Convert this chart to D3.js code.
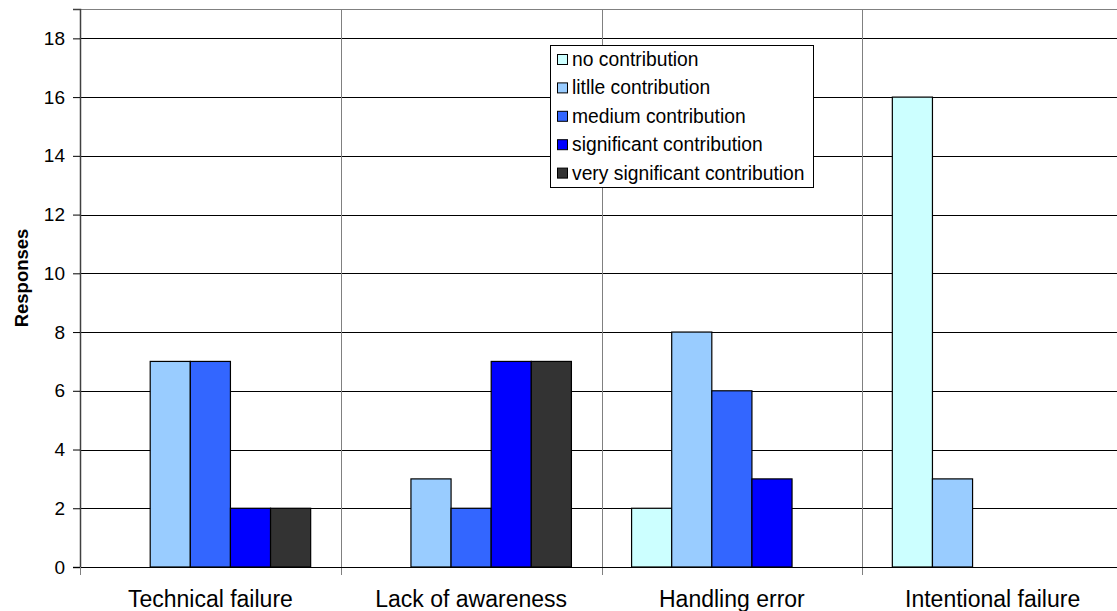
<!DOCTYPE html>
<html>
<head>
<meta charset="utf-8">
<script src="https://cdn.jsdelivr.net/npm/d3@7"></script>
<style>
  html, body { margin: 0; padding: 0; background: #fff; }
  svg { display: block; font-family: "Liberation Sans", Arial, sans-serif; }
</style>
</head>
<body>
<svg id="chart" width="1117" height="611"></svg>
<script>
// Survey responses: contribution level per cause of failure
const categories = ["Technical failure", "Lack of awareness", "Handling error", "Intentional failure"];
const seriesNames = ["no contribution", "litlle contribution", "medium contribution", "significant contribution", "very significant contribution"];
const seriesColors = ["#CCFFFF", "#99CCFF", "#3366FF", "#0000FF", "#333333"];
const noContribution = [0, 0, 2, 16];
const litlleContribution = [7, 3, 8, 3];
const mediumContribution = [7, 2, 6, 0];
const significantContribution = [2, 7, 3, 0];
const verySignificantContribution = [2, 7, 0, 0];
const yTicks = [0, 2, 4, 6, 8, 10, 12, 14, 16, 18];
const yMax = 19;

const seriesValues = [noContribution, litlleContribution, mediumContribution, significantContribution, verySignificantContribution];

const svg = d3.select("#chart");
const plot = { left: 80, right: 1123, top: 9, bottom: 567 };

const x = d3.scaleBand().domain(categories).range([plot.left, plot.right]).padding(0);
const xs = d3.scaleBand().domain(d3.range(seriesNames.length))
  .range([0, x.bandwidth()]).paddingInner(0).paddingOuter(0.75);
const y = d3.scaleLinear().domain([0, yMax]).range([plot.bottom, plot.top]);

// top border of the plot area
svg.append("line")
  .attr("x1", plot.left).attr("x2", plot.right)
  .attr("y1", y(yMax) + 0.5).attr("y2", y(yMax) + 0.5)
  .attr("stroke", "#808080").attr("stroke-width", 1);

// horizontal gridlines
svg.append("g").selectAll("line")
  .data(yTicks.filter(d => d > 0))
  .join("line")
  .attr("x1", plot.left).attr("x2", plot.right)
  .attr("y1", d => Math.round(y(d)) + 0.5).attr("y2", d => Math.round(y(d)) + 0.5)
  .attr("stroke", "#000").attr("stroke-width", 1);

// vertical gridlines between categories
svg.append("g").selectAll("line")
  .data(categories.slice(1).concat(["__end"]))
  .join("line")
  .attr("x1", (d, i) => Math.round(plot.left + (i + 1) * x.step()) + 0.5)
  .attr("x2", (d, i) => Math.round(plot.left + (i + 1) * x.step()) + 0.5)
  .attr("y1", plot.top).attr("y2", plot.bottom + 8)
  .attr("stroke", "#808080").attr("stroke-width", 1);

// bars
const groups = svg.append("g").selectAll("g")
  .data(categories)
  .join("g")
  .attr("transform", d => `translate(${x(d)},0)`);

groups.selectAll("rect")
  .data((c, ci) => seriesValues.map((vals, si) => ({ si, v: vals[ci] })).filter(d => d.v > 0))
  .join("rect")
  .attr("x", d => xs(d.si))
  .attr("width", xs.bandwidth())
  .attr("y", d => y(d.v))
  .attr("height", d => y(0) - y(d.v))
  .attr("fill", d => seriesColors[d.si])
  .attr("stroke", "#000")
  .attr("stroke-width", 1.2);

// y axis
const yAxis = svg.append("g")
  .attr("transform", `translate(${plot.left},0)`)
  .call(d3.axisLeft(y).tickValues(yTicks).tickSize(7).tickPadding(8).tickFormat(d3.format("d")));
yAxis.select(".domain").attr("stroke", "#404040").attr("stroke-width", 1.5);
yAxis.selectAll(".tick line").attr("stroke", "#000");
yAxis.selectAll("text").attr("font-size", 19).attr("fill", "#000")
  .attr("font-family", "Liberation Sans, Arial, sans-serif");

// x axis line
svg.append("line")
  .attr("x1", plot.left).attr("x2", plot.right)
  .attr("y1", plot.bottom + 0.5).attr("y2", plot.bottom + 0.5)
  .attr("stroke", "#000").attr("stroke-width", 1.2);
svg.append("line")
  .attr("x1", plot.left + 0.5).attr("x2", plot.left + 0.5)
  .attr("y1", plot.bottom).attr("y2", plot.bottom + 8)
  .attr("stroke", "#808080");

// category labels
svg.append("g").selectAll("text")
  .data(categories)
  .join("text")
  .attr("x", d => x(d) + x.bandwidth() / 2)
  .attr("y", 607)
  .attr("text-anchor", "middle")
  .attr("font-size", 23)
  .attr("fill", "#000")
  .text(d => d);

// y axis title
svg.append("text")
  .attr("transform", "translate(27.5,278) rotate(-90)")
  .attr("text-anchor", "middle")
  .attr("font-size", 18.5)
  .attr("font-weight", "bold")
  .attr("fill", "#000")
  .text("Responses");

// legend
const legend = svg.append("g");
legend.append("rect")
  .attr("x", 550.5).attr("y", 45.5)
  .attr("width", 263).attr("height", 142)
  .attr("fill", "#fff").attr("stroke", "#000").attr("stroke-width", 1);
const items = legend.selectAll("g.item")
  .data(seriesNames)
  .join("g")
  .attr("class", "item")
  .attr("transform", (d, i) => `translate(0,${66 + i * 28.4})`);
items.append("rect")
  .attr("x", 557.5).attr("y", -11.5)
  .attr("width", 10).attr("height", 10)
  .attr("fill", (d, i) => seriesColors[i])
  .attr("stroke", "#000").attr("stroke-width", 1);
items.append("text")
  .attr("x", 572)
  .attr("y", 0)
  .attr("font-size", 19.3)
  .attr("fill", "#000")
  .text(d => d);
</script>
</body>
</html>
